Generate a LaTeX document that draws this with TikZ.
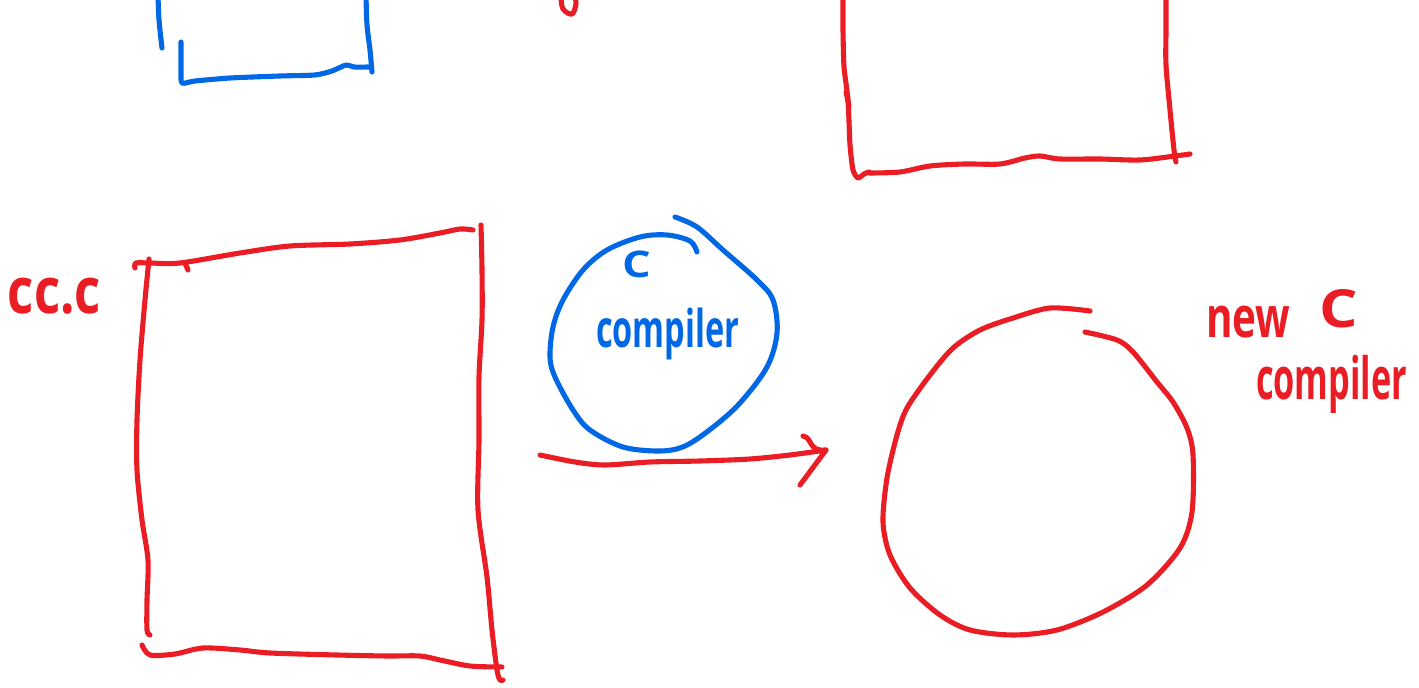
\documentclass[tikz,border=0pt]{standalone}
\usepackage{fontspec}
\usepackage{graphicx}
\setmainfont{Open Sans}
\definecolor{penred}{RGB}{234,28,36}
\definecolor{penblue}{RGB}{0,104,228}
\tikzset{
  redink/.style={draw=penred, line width=2.9pt, line cap=round, line join=round},
  blueink/.style={draw=penblue, line width=2.9pt, line cap=round, line join=round},
  redtext/.style={text=penred, inner sep=0pt, outer sep=0pt, font=\bfseries},
  bluetext/.style={text=penblue, inner sep=0pt, outer sep=0pt, font=\bfseries},
}
\begin{document}
\begin{tikzpicture}[x=0.02cm,y=-0.02cm]
\clip (0,0) rectangle (1419,688);
\fill[white] (0,0) rectangle (1419,688);

% ---- top-left blue box (cut off) ----
\draw[blueink] plot[smooth, tension=0.5] coordinates {(158,-5) (159,20) (162,48)};
\draw[blueink] plot[smooth, tension=0.4] coordinates {(181,42) (181,70) (182,83) (195,81) (230,78) (280,76) (315,75) (332,71) (346,65) (354,67) (370,67)};
\draw[blueink] plot[smooth, tension=0.5] coordinates {(366,-5) (367,25) (370,50) (372,72)};

% ---- small red mark at top ----
\draw[redink] plot[smooth, tension=0.6] coordinates {(561,-3) (563,9) (572,14) (576,4) (575,-3)};

% ---- top-right red box (cut off) ----
\draw[redink] plot[smooth, tension=0.4] coordinates {(843,-5) (843,30) (844,67) (848,100) (850,145) (853,170) (858,178) (864,174) (869,172)};
\draw[redink] (846,92) -- (849,106);
\draw[redink] plot[smooth, tension=0.5] coordinates {(869,173) (900,172) (930,166) (965,164) (1000,164) (1025,158) (1040,156) (1060,159) (1100,159) (1140,160) (1175,156) (1190,154)};
\draw[redink] plot[smooth, tension=0.5] coordinates {(1166,-5) (1166,30) (1166,65) (1170,110) (1174,150) (1176,162)};

% ---- big red box (cc.c) ----
\draw[redink] plot[smooth, tension=0.5] coordinates {(135,268) (136,263) (150,263) (180,263) (240,253) (290,246) (350,244) (400,240) (440,233) (460,229) (473,230)};
\draw[redink] (185,263) -- (188,270);
\draw[redink] plot[smooth, tension=0.5] coordinates {(149,259) (145,300) (140,360) (137,420) (137,470) (142,520) (148,560) (147,600) (147,630) (150,635)};
\draw[redink] plot[smooth, tension=0.5] coordinates {(481,225) (482,270) (482,320) (479,377) (479,440) (478,510) (487,577) (492,630) (497,670) (500,680) (503,680)};
\draw[redink] plot[smooth, tension=0.5] coordinates {(142,645) (150,655) (175,654) (203,648) (240,650) (270,653) (337,655) (387,656) (420,656) (440,660) (470,666) (502,667)};

% ---- labels ----
\node[redtext, anchor=base west] (ccc) at (8,314) {\fontsize{29}{31}\selectfont\scalebox{1}[1.25]{cc.c}};

% ---- blue circle: C compiler ----
\draw[blueink] plot[smooth, tension=0.55] coordinates {(697,252) (690,241) (667,235) (640,237) (607,250) (583,270) (563,300) (553,327) (550,357) (555,377) (573,410) (590,430) (623,447) (660,451) (685,446) (712,428) (740,403) (767,367) (777,333) (773,300) (757,280) (723,250) (697,227) (675,217)};
\node[bluetext, anchor=base west] (bc) at (622,278) {\fontsize{19}{21}\selectfont\scalebox{1.35}[1.1]{C}};
\node[bluetext, anchor=base west] (bcomp) at (596,348) {\fontsize{18.5}{21}\selectfont\scalebox{1}[1.6]{compiler}};

% ---- arrow ----
\coordinate (astart) at (540,455);
\coordinate (aend) at (826,450);
\draw[redink] plot[smooth, tension=0.5] coordinates {(540,455) (575,462) (605,465) (650,462) (700,461) (750,459) (790,455) (826,450)};
\draw[redink] (803,436) .. controls (813,438) and (808,452) .. (aend) -- (800,485);

% ---- red circle: new C compiler ----
\draw[redink] plot[smooth, tension=0.5] coordinates {(1090,311) (1050,308) (1013,318) (980,330) (953,348) (930,375) (907,408) (897,435) (887,478) (883,522) (890,555) (910,588) (940,615) (970,630) (1013,635) (1057,630) (1103,612) (1147,585) (1180,548) (1192,512) (1193,455) (1187,428) (1173,402) (1157,382) (1133,352) (1117,340) (1085,332)};
\node[redtext, anchor=base west] (nnew) at (1206,338) {\fontsize{23}{25}\selectfont\scalebox{1}[1.4]{new}};
\node[redtext, anchor=base west] (nc) at (1319,328) {\fontsize{23}{25}\selectfont\scalebox{1.5}[1.3]{C}};
\node[redtext, anchor=base west] (ncomp) at (1256,400) {\fontsize{19.5}{23}\selectfont\scalebox{1}[1.7]{compiler}};
\end{tikzpicture}
\end{document}
